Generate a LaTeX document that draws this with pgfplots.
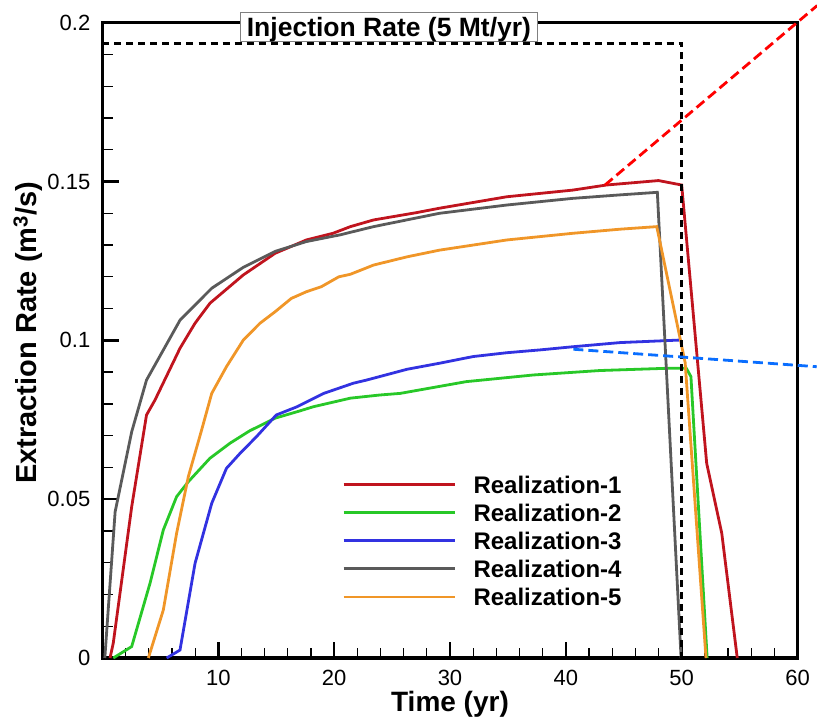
\documentclass[border=0pt]{standalone}
\usepackage{fontspec}
\setmainfont{Liberation Sans}
\usepackage{pgfplots}
\pgfplotsset{compat=1.18}
\definecolor{rA}{RGB}{192,20,30}
\definecolor{rB}{RGB}{40,200,40}
\definecolor{rC}{RGB}{50,50,225}
\definecolor{rD}{RGB}{90,90,90}
\definecolor{rE}{RGB}{240,150,40}
\definecolor{annB}{RGB}{10,110,255}
\begin{document}
\begin{tikzpicture}
\begin{axis}[
  at={(0,0)}, anchor=south west,
  scale only axis, width=695bp, height=635.3bp,
  xmin=0, xmax=60, ymin=0, ymax=0.2,
  clip=false,
  xtick={0,10,20,30,40,50,60}, xticklabels={,10,20,30,40,50,60},
  ytick={0,0.05,0.1,0.15,0.2}, yticklabels={0,0.05,0.1,0.15,0.2},
  minor x tick num=4, minor y tick num=4,
  xtick pos=bottom, ytick pos=left, tick align=inside,
  major tick length=16bp, minor tick length=10bp,
  every major tick/.append style={line width=2.5bp, black},
  every minor tick/.append style={line width=1.3bp, black},
  axis line style={line width=3.5bp},
  /pgf/number format/assume math mode=true,
  ticklabel style={font=\fontsize{22bp}{26bp}\selectfont, inner sep=0pt},
  xticklabel style={yshift=-12bp},
  yticklabel style={xshift=-12bp},
  xlabel={Time (yr)},
  ylabel={Extraction Rate (m\textsuperscript{3}/s)},
  xlabel style={at={(rel axis cs:0.5,-0.0835)}, anchor=base, inner sep=0pt, font=\bfseries\fontsize{28bp}{30bp}\selectfont},
  ylabel style={at={(rel axis cs:-0.0947,0.512)}, anchor=base, inner sep=0pt, font=\bfseries\fontsize{29bp}{30bp}\selectfont},
  legend style={at={(axis cs:20.68,0.0574)}, anchor=north west, draw=none, fill=none,
    inner xsep=0pt, inner ysep=0pt,
    nodes={inner sep=0pt, text depth=0pt},
    row sep=10.7bp, column sep=0pt,
    /tikz/every odd column/.style={column sep=17.5bp},
    font=\bfseries\fontsize{24bp}{26bp}\selectfont},
  legend cell align=left,
  legend image code/.code={\draw[#1] (0bp,0bp) -- (111bp,0bp);},
]
\addplot[rA, line width=2.8bp] coordinates {
(0.65,0) (0.93,0.0047) (2.52,0.0476) (3.8,0.0765) (4.53,0.0812) (6.69,0.0975) (7.99,0.1054) (9.28,0.1117) (12.16,0.1206) (14.9,0.1274) (17.6,0.1316) (19.9,0.1337) (21.4,0.1358) (23.4,0.1379) (27.1,0.1402) (29.1,0.1416) (34.9,0.1452) (40.6,0.1473) (43.5,0.1489) (48.0,0.1503) (50.0,0.1489) (52.16,0.0613) (53.46,0.0393) (54.8,0)};
\addlegendentry{Realization-1\rule[-4bp]{0pt}{1bp}}
\addplot[rB, line width=2.8bp] coordinates {
(0.93,0) (2.52,0.0036) (4.1,0.0235) (5.25,0.0403) (6.4,0.0508) (7.41,0.0555) (9.28,0.0629) (11.0,0.0676) (12.7,0.0715) (14.9,0.0755) (17.05,0.0778) (18.2,0.0791) (21.4,0.0818) (23.96,0.0828) (25.7,0.0833) (31.4,0.087) (37.2,0.0891) (42.95,0.0905) (48.7,0.0912) (50.4,0.0912) (50.8,0.0886) (52.2,0)};
\addlegendentry{Realization-2\rule[-4bp]{0pt}{1bp}}
\addplot[rC, line width=2.8bp] coordinates {
(5.54,0) (6.69,0.0025) (7.99,0.0298) (9.43,0.0487) (10.7,0.0597) (11.87,0.0644) (13.3,0.0697) (15.0,0.0765) (16.8,0.0791) (19.1,0.0833) (21.65,0.0865) (22.8,0.0875) (26.3,0.0909) (29.1,0.0928) (32.0,0.0949) (34.9,0.0961) (37.8,0.097) (40.65,0.098) (44.7,0.0993) (49.9,0.1001)};
\addlegendentry{Realization-3\rule[-4bp]{0pt}{1bp}}
\addplot[rD, line width=2.8bp] coordinates {
(0.2,0) (1.09,0.046) (2.52,0.0712) (3.8,0.0875) (6.7,0.1064) (9.43,0.1164) (12.16,0.123) (14.9,0.128) (17.6,0.1311) (20.5,0.1332) (23.4,0.1358) (29.1,0.14) (34.9,0.1426) (40.6,0.1447) (44.7,0.1458) (47.9,0.1466) (49.95,0)};
\addlegendentry{Realization-4\rule[-4bp]{0pt}{1bp}}
\addplot[rE, line width=2.8bp] coordinates {
(3.96,0) (5.25,0.0151) (6.4,0.0393) (7.41,0.0571) (8.56,0.0718) (9.43,0.0833) (10.7,0.0917) (12.16,0.1001) (13.6,0.1054) (14.9,0.109) (16.3,0.1132) (17.6,0.1153) (18.9,0.1169) (20.4,0.12) (21.4,0.1208) (23.4,0.1237) (26.3,0.1263) (29.1,0.1284) (34.9,0.1316) (40.6,0.1337) (44.7,0.135) (47.85,0.1358) (50.3,0.093) (52.1,0)};
\addlegendentry{Realization-5\rule[-4bp]{0pt}{1bp}}
\addplot[black, line width=3bp, dash pattern=on 7bp off 5bp, forget plot] coordinates {(0,0.1935) (50,0.1935) (50,0)};
\addplot[red, line width=2.8bp, dash pattern=on 10bp off 5bp, forget plot] coordinates {(43.38,0.1489) (61.7,0.2054)};
\addplot[annB, line width=2.8bp, dash pattern=on 10bp off 5bp, forget plot] coordinates {(40.65,0.0972) (61.66,0.0917)};
\coordinate (titlepos) at (axis cs:24.73,0.1958);
\end{axis}
\node[anchor=base, draw=gray, line width=1.2bp, fill=white, inner xsep=6.5bp, inner ysep=0pt, text height=23.3bp, text depth=5.7bp, font=\bfseries\fontsize{26.5bp}{28bp}\selectfont] at (titlepos) {Injection Rate (5 Mt/yr)};
\pgfresetboundingbox
\path[use as bounding box] (-102.5bp,-63bp) rectangle (714.5bp,658bp);
\end{tikzpicture}
\end{document}
